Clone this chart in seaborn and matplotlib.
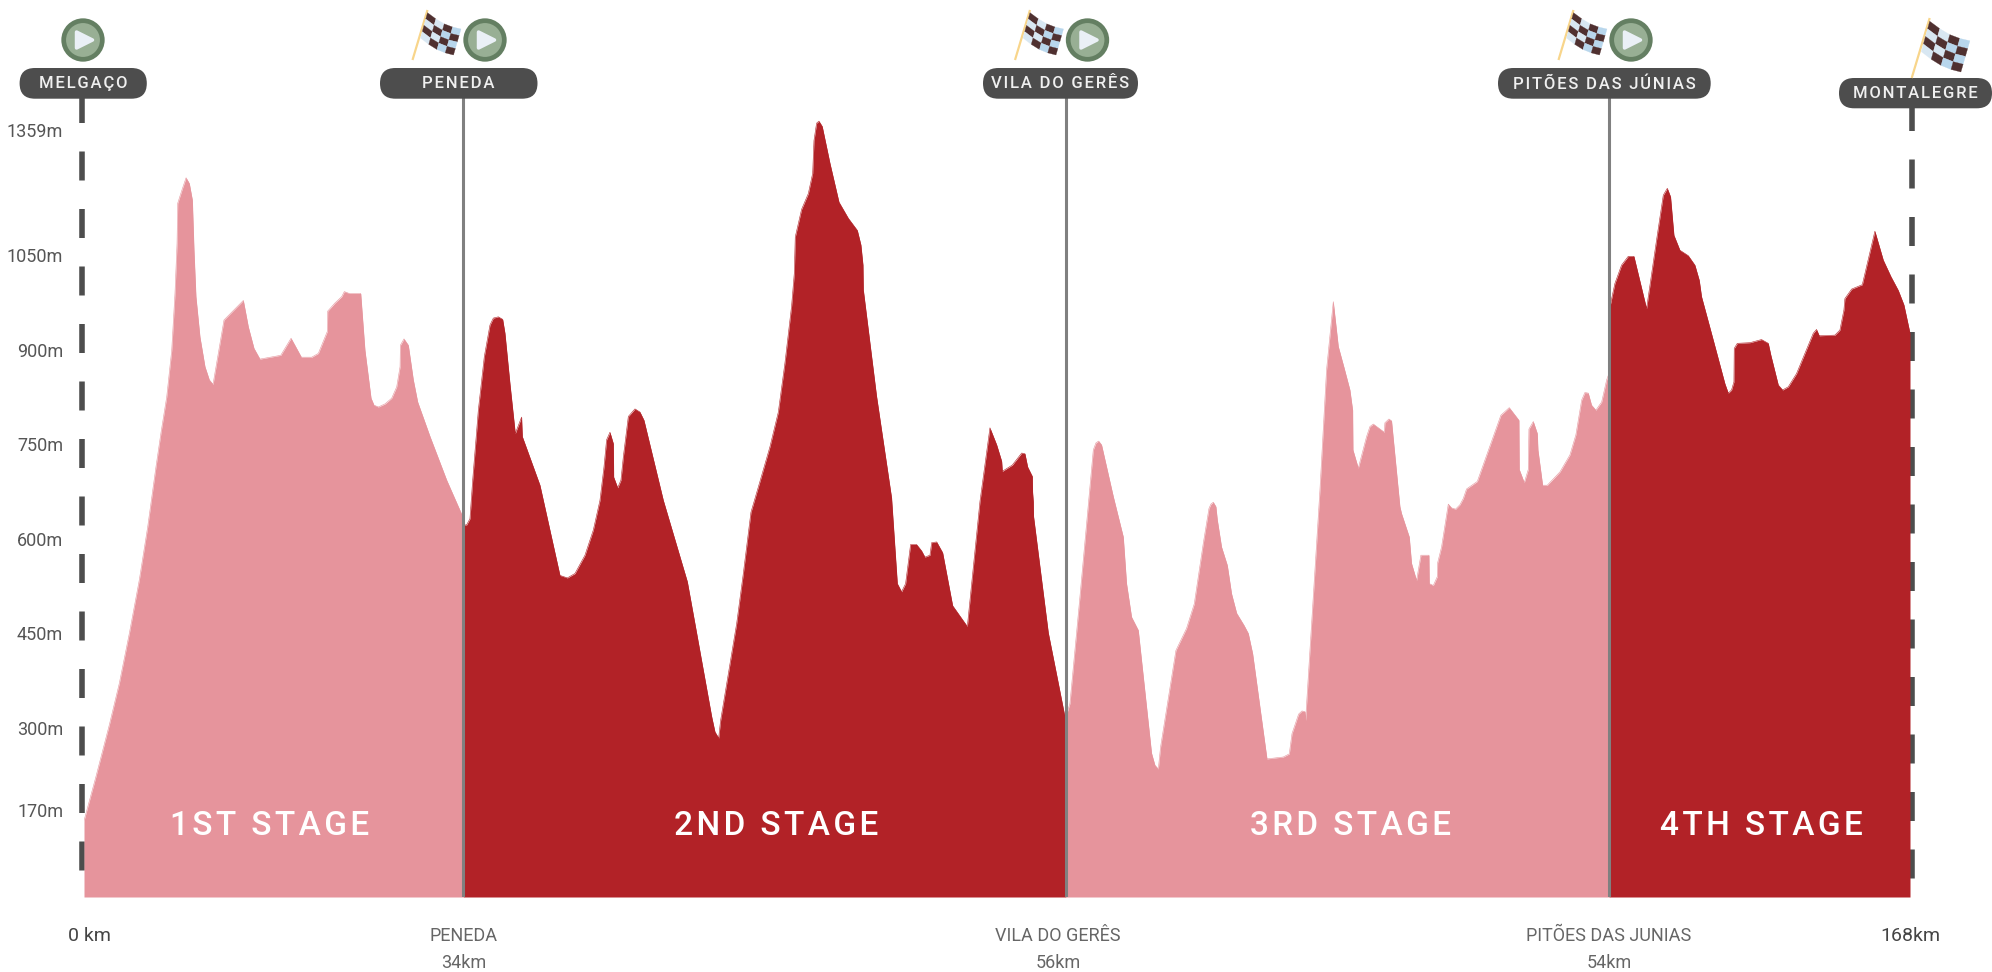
import numpy as np
import pandas as pd
import matplotlib
matplotlib.use("Agg")
import matplotlib.pyplot as plt
from matplotlib.patches import Circle, FancyBboxPatch, Polygon
import seaborn as sns

# elevation profile, one pair of lists per stage (km, metres)
stage1_km = [0, 1.10, 2.33, 3.25, 4.17, 5.09, 5.86, 6.62, 7.08, 7.61, 8.07, 8.37, 8.56, 8.62, 9.00, 9.39, 9.69, 9.97, 10.12, 10.30, 10.67,
             11.13, 11.53, 11.87, 12.88, 14.66, 15.12, 15.64, 16.19, 18.10, 19.05, 20.0, 20.95, 21.56, 22.39, 22.42,
             23.09, 23.71, 23.95, 24.41, 25.46, 25.85, 26.41, 26.68, 27.08, 27.70, 28.31, 28.77, 29.08, 29.11, 29.44,
             29.84, 30.30, 30.70, 31.84, 33.37, 34.9]
stage1_m = [153, 223, 305, 371, 450, 535, 619, 714, 768, 825, 899, 989, 1079, 1178, 1210, 1241, 1227, 1186, 1062, 984, 920,
            873, 852, 845, 947, 978, 936, 902, 885, 891, 918, 888, 888, 894, 929, 961,
            974, 984, 992, 989, 989, 899, 823, 812, 809, 814, 823, 841, 873, 907, 917,
            907, 852, 817, 762, 693, 633]

stage2_km = [34.9, 35.20, 35.51, 35.76, 36.28, 36.83, 37.35, 37.66, 38.12, 38.52, 38.73, 39.19, 39.68, 40.26, 40.33,
             41.95, 43.79, 44.47, 45.17, 46.09, 46.86, 47.47, 47.84, 48.08, 48.39, 48.70, 48.73, 49.10, 49.40, 49.62,
             50.08, 50.69, 51.15, 51.52, 53.30, 55.51, 56.37, 57.75, 58.05, 58.39, 58.57, 60.05, 60.66, 61.36, 62.19,
             63.11, 63.88, 64.49, 65.10, 65.35, 65.44, 66.02, 66.64, 67.04, 67.16, 67.40, 67.62, 67.92, 68.63, 69.46,
             70.32, 71.15, 71.48, 71.67, 71.70, 72.92, 74.30, 74.83, 75.22, 75.59, 76.05, 76.60, 77.06, 77.37, 77.83,
             77.99, 78.45, 79.0, 79.92, 81.27, 82.43, 83.35, 83.97, 84.43, 84.49, 85.41, 86.27, 86.57, 86.82, 87.25,
             87.27, 87.34, 87.36, 88.72, 90.34]
stage2_m = [622, 622, 632, 693, 804, 889, 939, 950, 952, 948, 926, 846, 767, 793, 762,
            685, 542, 538, 545, 574, 614, 661, 714, 757, 769, 751, 698, 681, 693, 730,
            794, 806, 801, 788, 661, 532, 450, 318, 294, 284, 312, 466, 545, 642, 691,
            746, 801, 879, 969, 1021, 1095, 1163, 1202, 1252, 1333, 1376, 1381, 1368, 1277, 1181,
            1141, 1111, 1075, 1034, 995, 826, 665, 529, 516, 529, 591, 591, 581, 571, 574,
            594, 595, 578, 494, 461, 659, 776, 749, 723, 707, 717, 736, 735, 714, 699,
            675, 659, 636, 451, 310]

stage3_km = [90.34, 90.71, 91.63, 92.86, 93.10, 93.35, 93.62, 94.70, 95.62, 95.92, 96.38, 97.0, 98.22, 98.53, 98.84,
             99.05, 100.46, 101.44, 102.15, 102.98, 103.50, 103.68, 103.90, 104.14, 104.27, 104.66, 105.19, 105.58,
             106.05, 106.72, 107.12, 107.52, 108.84, 110.34, 110.89, 111.14, 111.75, 112.06, 112.33, 112.39, 113.71,
             114.32, 114.94, 115.40, 115.92, 116.47, 116.72, 116.75, 117.24, 118.0, 118.31, 118.62, 119.63, 119.69,
             120.06, 120.30, 121.07, 121.22, 121.93, 122.14, 122.60, 123.0, 123.74, 123.77, 124.14, 124.51, 124.54,
             124.90, 125.52, 125.82, 126.19, 126.59, 126.90, 127.20, 128.19, 130.36, 131.13, 132.02, 132.05, 132.51,
             132.88, 132.94, 133.34, 133.71, 133.77, 134.20, 134.63, 135.79, 136.71, 137.26, 137.79, 138.09, 138.40,
             138.70, 139.10, 139.63, 140.09, 140.3]
stage3_m = [318, 339, 508, 741, 752, 755, 749, 667, 603, 529, 476, 455, 260, 241, 235,
            270, 423, 458, 497, 593, 648, 655, 658, 651, 630, 587, 558, 513,
            482, 463, 450, 418, 251, 254, 259, 291, 322, 327, 326, 312, 677,
            868, 976, 905, 872, 836, 804, 741, 712, 762, 778, 782, 769, 784,
            790, 787, 651, 640, 603, 561, 534, 574, 574, 529, 526, 540, 562,
            587, 655, 649, 647, 654, 664, 679, 691, 796, 808, 788, 710, 689,
            710, 774, 786, 767, 741, 685, 685, 706, 733, 765, 820, 832, 831,
            812, 804, 817, 852, 862]

stage4_km = [140.3, 140.39, 140.85, 141.46, 142.08, 142.60, 143.76, 144.68, 145.30, 145.67, 145.97, 146.28, 146.83,
             147.60, 148.21, 148.61, 148.82, 149.9, 150.97, 151.28, 151.58, 151.80, 151.83, 152.11, 153.27, 154.34,
             154.96, 155.20, 155.88, 156.28, 156.80, 157.56, 159.10, 159.40, 159.65, 161.09, 161.55, 161.92, 162.01,
             162.63, 163.61, 164.77, 165.54, 166.24, 166.92, 167.44, 168]
stage4_m = [950, 968, 1005, 1034, 1048, 1048, 965, 1087, 1198, 1215, 1194, 1099, 1062,
            1049, 1034, 1010, 984, 915, 846, 831, 836, 849, 902, 910, 911, 916,
            910, 891, 844, 836, 841, 862, 926, 932, 922, 923, 931, 963, 981,
            996, 1003, 1109, 1042, 1016, 994, 971, 926]

stage_km = [stage1_km, stage2_km, stage3_km, stage4_km]
stage_m = [stage1_m, stage2_m, stage3_m, stage4_m]
stage_names = ["1ST STAGE", "2ND STAGE", "3RD STAGE", "4TH STAGE"]
stage_centers = [17.1, 63.7, 116.5, 154.3]

elev_ticks = [170, 300, 450, 600, 750, 900, 1050, 1359]
split_km = [34.9, 90.34, 140.3]
dist_ticks = [0.5, 34.9, 89.6, 140.3, 168]
dist_places = ["0 km", "PENEDA", "VILA DO GERÊS", "PITÕES DAS JUNIAS", "168km"]
dist_lengths = ["", "34km", "56km", "54km", ""]

PINK = "#e6949c"
RED = "#b22227"
DARK = "#4d4d4d"
HAIR = "\u200a"

sns.set_theme(style="white")
plt.rcParams["font.family"] = ["Roboto", "DejaVu Sans"]
plt.rcParams["lines.scale_dashes"] = False


# letter spacing, the original has tracked-out capitals; the join keeps a hair space either side of word gaps
def spaced(s):
    return HAIR.join(s)


# the top of the elevation axis is squeezed in the original
def elev_fwd(v):
    v = np.asarray(v, dtype=float)
    return np.where(v <= 1050, v * 0.6305, 662.0 + (v - 1050) * 0.4045)


def elev_inv(p):
    p = np.asarray(p, dtype=float)
    return np.where(p <= 662.0, p / 0.6305, 1050 + (p - 662.0) / 0.4045)


W, H = 1992, 972
fig = plt.figure(figsize=(W / 100, H / 100), dpi=100, facecolor="white")

# pixel-sized layers for the furniture: one under the profile, one over it
under = fig.add_axes([0, 0, 1, 1], zorder=0)
over = fig.add_axes([0, 0, 1, 1], zorder=2)
for a in (under, over):
    a.set_xlim(0, W)
    a.set_ylim(H, 0)
    a.axis("off")
    a.patch.set_alpha(0)

ax = fig.add_axes([84 / W, (H - 897) / H, (1910 - 84) / W, (897 - 73) / H], zorder=1)
ax.patch.set_alpha(0)
ax.set_yscale("function", functions=(elev_fwd, elev_inv))

for i in range(4):
    df = pd.DataFrame({"km": stage_km[i], "m": stage_m[i]})
    col = PINK if i % 2 == 0 else RED
    ax.fill_between(df["km"], 32, df["m"], color=col, lw=0, zorder=2 + i % 2)
    sns.lineplot(data=df, x="km", y="m", color=col, lw=0.4, ax=ax, zorder=2 + i % 2, sort=False, errorbar=None)
    ax.text(stage_centers[i], 144, spaced(stage_names[i]), color="white", fontsize=24, fontweight="medium",
            ha="center", va="center", zorder=6)

ax.vlines(split_km, 32, 1445, color="#808080", lw=2.2, zorder=5)

ax.set_xlim(0, 168)
ax.set_ylim(32, 1500)
ax.set_xlabel("")
ax.set_ylabel("")
ax.set_yticks(elev_ticks)
ax.set_yticklabels([f"{v}m" for v in elev_ticks], fontsize=13, color="#555555")
ax.set_xticks(dist_ticks)
ax.set_xticklabels(dist_places, fontsize=13, color="#666666")
ax.minorticks_off()
ax.tick_params(axis="y", length=0, pad=15)
ax.tick_params(axis="x", length=0, pad=32)
for lab in ax.get_xticklabels():
    lab.set_va("baseline")
for i in (0, 4):
    ax.get_xticklabels()[i].set_color("#444444")
    ax.get_xticklabels()[i].set_fontsize(14)
for x, txt in zip(dist_ticks, dist_lengths):
    if txt:
        ax.annotate(txt, xy=(x, 0), xycoords=("data", "axes fraction"), xytext=(0, -51), textcoords="offset points",
                    ha="center", va="baseline", fontsize=13, color="#666666", annotation_clip=False)
sns.despine(ax=ax, left=True, bottom=True)

# dashed start and finish posts
on, off = 29 * 0.72, 28.5 * 0.72
under.plot([82.3, 82.3], [94.5, 872], color=DARK, lw=4, dashes=(on, off), dash_capstyle="butt")
under.plot([1912, 1912], [102.5, 879], color=DARK, lw=4, dashes=(on, off), dash_capstyle="butt")


def pill(x0, x1, y0, y1, label):
    h = y1 - y0
    over.add_patch(FancyBboxPatch((x0 + h / 2, y0 + h / 2), x1 - x0 - h, 0,
                                  boxstyle=f"round,pad={h / 2},rounding_size={h / 2}",
                                  fc=DARK, ec="none", zorder=3, clip_on=False))
    over.text((x0 + x1) / 2, (y0 + y1) / 2 + 0.5, spaced(label), color="#f0f0f0", fontsize=12, fontweight="medium",
              ha="center", va="center", zorder=4)


def play(cx, cy=40):
    over.add_patch(Circle((cx, cy), 19.3, fc="#98af94", ec="#647f62", lw=3.4, zorder=3))
    over.add_patch(Polygon([(cx - 6.5, cy - 8), (cx + 9.5, cy), (cx - 6.5, cy + 8)], closed=True, fc="#eaf0f6",
                           ec="#eaf0f6", lw=2.5, joinstyle="round", zorder=4))


def flag(x0, y0, s=1.0):
    over.plot([x0, x0 + 15 * s], [y0 + 50 * s, y0], color="#f8d58b", lw=1.6, zorder=3, solid_capstyle="butt")
    tl = np.array([x0 + 15 * s, y0 + 2.7 * s])
    tr = np.array([x0 + 48.5 * s, y0 + 19 * s])
    br = np.array([x0 + 41 * s, y0 + 45 * s])
    bl = np.array([x0 + 8 * s, y0 + 28 * s])
    n = 4

    def pt(u, v):
        sag = np.array([0, np.sin(u * np.pi) * 3 * s])
        return (1 - u) * (1 - v) * tl + u * (1 - v) * tr + u * v * br + (1 - u) * v * bl + sag

    for r in range(n):
        for c in range(n):
            corners = [pt(c / n, r / n), pt((c + 1) / n, r / n), pt((c + 1) / n, (r + 1) / n), pt(c / n, (r + 1) / n)]
            if (r + c) % 2 == 0:
                fc = "#4f3030"
            else:
                fc = "#b8d6ec" if c >= 2 else "#d8e7f2"
            over.add_patch(Polygon(corners, closed=True, fc=fc, ec=fc, lw=0.2, zorder=3))


pill(19.6, 146.8, 68, 98.7, "MELGAÇO")
pill(380, 537.5, 68, 98.7, "PENEDA")
pill(983, 1138, 68, 98.7, "VILA DO GERÊS")
pill(1498, 1710.7, 68, 98.7, "PITÕES DAS JÚNIAS")
pill(1839, 1992, 78, 108.3, "MONTALEGRE")

for cx in (83, 485, 1087.5, 1631):
    play(cx)
for fx in (412.5, 1015, 1558.5):
    flag(fx, 10)
flag(1911.7, 18, 1.2)

fig.savefig("out.png", dpi=100, facecolor="white")
